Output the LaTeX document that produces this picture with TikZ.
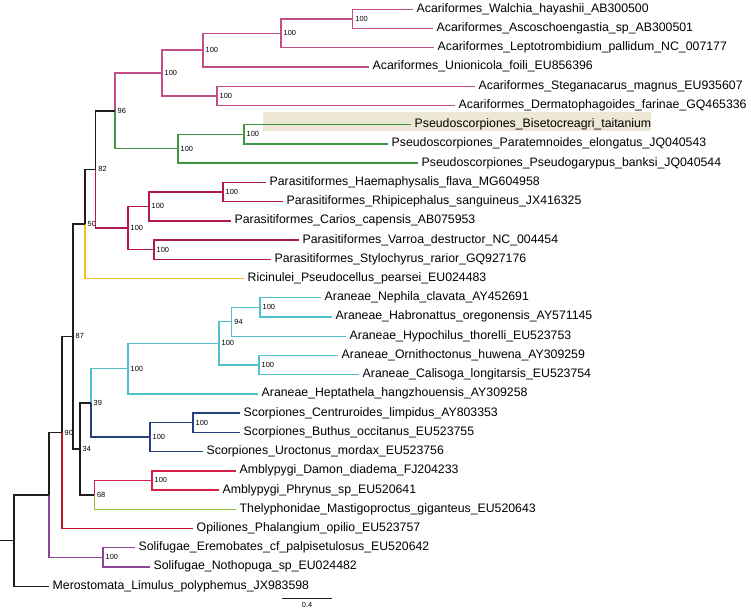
\documentclass[tikz,border=0pt]{standalone}
\usepackage{fontspec}
\setmainfont{Liberation Sans}
\usepackage{xcolor}
\usepackage{tikz}
\definecolor{spine}{RGB}{30, 30, 30}
\definecolor{acari}{RGB}{196, 78, 138}
\definecolor{pseudo}{RGB}{62, 150, 62}
\definecolor{para}{RGB}{178, 24, 86}
\definecolor{ricin}{RGB}{245, 190, 40}
\definecolor{aran}{RGB}{80, 192, 204}
\definecolor{scorp}{RGB}{40, 64, 128}
\definecolor{ambly}{RGB}{214, 30, 72}
\definecolor{thely}{RGB}{140, 196, 60}
\definecolor{opil}{RGB}{190, 20, 40}
\definecolor{soli}{RGB}{140, 70, 150}
\definecolor{hilite}{RGB}{237, 231, 213}

\begin{document}
\begin{tikzpicture}[x=1pt, y=-19.23pt,
    leaf/.style={anchor=west, inner sep=3.5pt, text height=0.7em, text depth=0.1em,
      font=\fontsize{12.3}{14}\selectfont},
    support/.style={anchor=west, inner sep=2.5pt, font=\fontsize{7.4}{9}\selectfont},
    branch/.style={line width=1.4pt}]
      \useasboundingbox (0,0.5164) rectangle (751,32.342);
      % highlighted taxon
      \fill[hilite] (263,6.341) rectangle (651,7.329);
      % tips: branch end x / label
      \foreach \tx/\taxon [count=\n] in {
        413/Acariformes\_Walchia\_hayashii\_AB300500,
        433/Acariformes\_Ascoschoengastia\_sp\_AB300501,
        434/Acariformes\_Leptotrombidium\_pallidum\_NC\_007177,
        369/Acariformes\_Unionicola\_foili\_EU856396,
        475/Acariformes\_Steganacarus\_magnus\_EU935607,
        455/Acariformes\_Dermatophagoides\_farinae\_GQ465336,
        411/Pseudoscorpiones\_Bisetocreagri\_taitanium,
        388/Pseudoscorpiones\_Paratemnoides\_elongatus\_JQ040543,
        418/Pseudoscorpiones\_Pseudogarypus\_banksi\_JQ040544,
        266/Parasitiformes\_Haemaphysalis\_flava\_MG604958,
        283/Parasitiformes\_Rhipicephalus\_sanguineus\_JX416325,
        231/Parasitiformes\_Carios\_capensis\_AB075953,
        299/Parasitiformes\_Varroa\_destructor\_NC\_004454,
        271/Parasitiformes\_Stylochyrus\_rarior\_GQ927176,
        244/Ricinulei\_Pseudocellus\_pearsei\_EU024483,
        321/Araneae\_Nephila\_clavata\_AY452691,
        332/Araneae\_Habronattus\_oregonensis\_AY571145,
        346/Araneae\_Hypochilus\_thorelli\_EU523753,
        338/Araneae\_Ornithoctonus\_huwena\_AY309259,
        359/Araneae\_Calisoga\_longitarsis\_EU523754,
        258/Araneae\_Heptathela\_hangzhouensis\_AY309258,
        240/Scorpiones\_Centruroides\_limpidus\_AY803353,
        240/Scorpiones\_Buthus\_occitanus\_EU523755,
        203/Scorpiones\_Uroctonus\_mordax\_EU523756,
        236/Amblypygi\_Damon\_diadema\_FJ204233,
        219/Amblypygi\_Phrynus\_sp\_EU520641,
        236/Thelyphonidae\_Mastigoproctus\_giganteus\_EU520643,
        193/Opiliones\_Phalangium\_opilio\_EU523757,
        135/Solifugae\_Eremobates\_cf\_palpisetulosus\_EU520642,
        150/Solifugae\_Nothopuga\_sp\_EU024482,
        49/Merostomata\_Limulus\_polyphemus\_JX983598} {
          \node[leaf] (t\n) at (\tx,\n) {\taxon};
        }
      % internal nodes with bootstrap support
      \foreach \id/\x/\y/\bs in {
        A1/352.7/1.5/100, A2/281/2.25/100, A3/203/3.125/100,
        A4/217/5.5/100, A5/162/4.3125/100,
        P1/244/7.5/100, P2/178/8.25/100, N96/115/6.28125/96,
        I1/223/10.5/100, I2/149/11.25/100, I3/154/13.5/100, I4/128/12.375/100,
        N82/95.7/9.328/82, N50/85/12.164/50,
        S1/260/16.5/100, S2/231.7/17.25/94, S3/259/19.5/100,
        S4/219/18.375/100, S5/128/19.6875/100,
        C1/193/22.5/100, C2/150/23.25/100, N39/91/21.469/39,
        M1/152/25.5/100, N68/94.3/26.25/68, N34/80/23.859/34,
        N87/73/18.012/87, N90/62/23.006/90, F1/103/29.5/100,
        N49/49/26.253/{}, root/14/28.627/{}} {
          \node[support] (\id) at (\x,\y) {\bs};
        }
      % branches: parent / child / colour
      \foreach \p/\c/\k in {
        A1/t1/acari, A1/t2/acari, A2/A1/acari, A2/t3/acari, A3/A2/acari,
        A3/t4/acari, A4/t5/acari, A4/t6/acari, A5/A3/acari, A5/A4/acari,
        P1/t7/pseudo, P1/t8/pseudo, P2/P1/pseudo, P2/t9/pseudo,
        N96/A5/acari, N96/P2/pseudo,
        I1/t10/para, I1/t11/para, I2/I1/para, I2/t12/para,
        I3/t13/para, I3/t14/para, I4/I2/para, I4/I3/para,
        N82/N96/spine, N82/I4/para, N50/N82/spine, N50/t15/ricin,
        S1/t16/aran, S1/t17/aran, S2/S1/aran, S2/t18/aran, S3/t19/aran,
        S3/t20/aran, S4/S2/aran, S4/S3/aran, S5/S4/aran, S5/t21/aran,
        C1/t22/scorp, C1/t23/scorp, C2/C1/scorp, C2/t24/scorp,
        N39/S5/aran, N39/C2/scorp,
        M1/t25/ambly, M1/t26/ambly, N68/M1/ambly, N68/t27/thely,
        N34/N39/spine, N34/N68/spine, N87/N50/spine, N87/N34/spine,
        N90/N87/spine, N90/t28/opil, F1/t29/soli, F1/t30/soli,
        N49/N90/spine, N49/F1/soli, root/N49/spine, root/t31/spine} {
          \draw[branch, color=\k] (\p.west) |- (\c.west);
        }
      % root stub
      \coordinate (stub) at (0,28.627);
      \draw[branch, spine] (stub) -- (root.west);
      % scale bar
      \coordinate (sbl) at (282,31.614);
      \coordinate (sbr) at (332,31.614);
      \draw[line width=0.9pt, spine] (sbl) -- (sbr);
      \node[support, anchor=center] (sblab) at (307,31.978) {0.4};
\end{tikzpicture}
\end{document}
